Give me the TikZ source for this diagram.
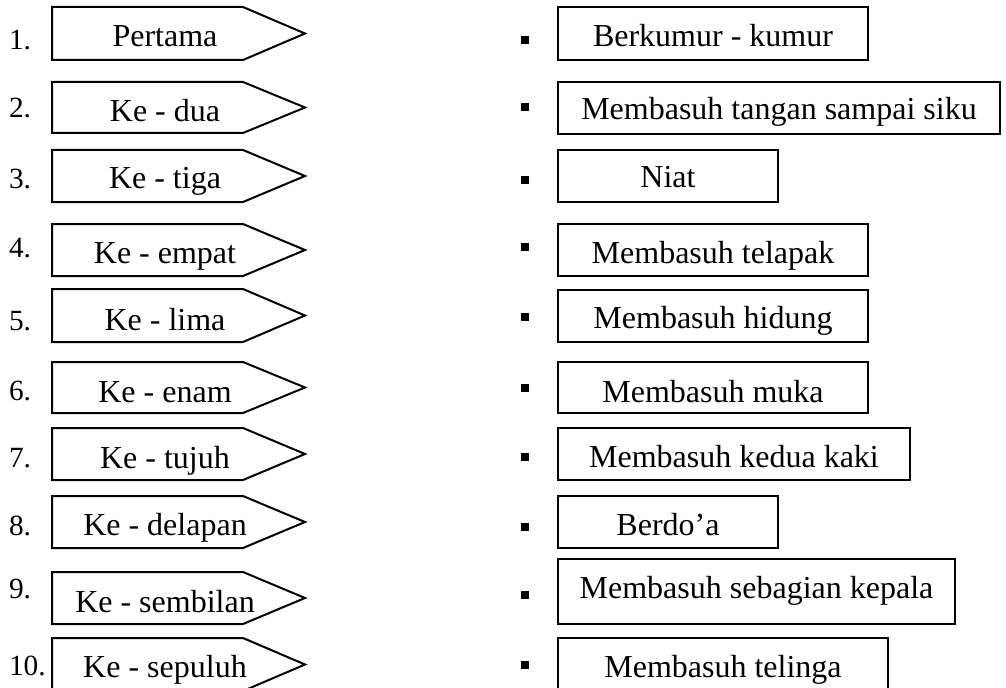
\documentclass[tikz,border=0pt]{standalone}
\usepackage{fontspec}
\setmainfont{Liberation Serif}

\tikzset{
  order/.style={anchor=base, inner sep=0pt, font=\fontsize{24}{28}\selectfont},
  num/.style={anchor=base west, inner sep=0pt, font=\fontsize{22}{26}\selectfont},
  act/.style={anchor=base, inner sep=0pt, font=\fontsize{24}{28}\selectfont},
  dot/.style={fill=black, inner sep=0pt, minimum size=6pt},
}

\begin{document}
\begin{tikzpicture}[x=0.75pt, y=-0.75pt, line width=1.5pt, line join=miter]
\useasboundingbox (0,0) rectangle (1006,688);

% left column: numbers and arrow boxes
\node[num] (n1) at (8,50) {1.};
\node[num] (n2) at (8,118) {2.};
\node[num] (n3) at (8,189) {3.};
\node[num] (n4) at (8,257) {4.};
\node[num] (n5) at (8,330) {5.};
\node[num] (n6) at (8,400) {6.};
\node[num] (n7) at (8,467) {7.};
\node[num] (n8) at (8,535) {8.};
\node[num] (n9) at (8,598) {9.};
\node[num] (n10) at (8,675) {10.};

\draw (52,7) -- (243,7) -- (305,33.5) -- (243,60) -- (52,60) -- cycle;
\draw (52,82) -- (243,82) -- (305,107.5) -- (243,133) -- (52,133) -- cycle;
\draw (52,150) -- (243,150) -- (305,176) -- (243,202) -- (52,202) -- cycle;
\draw (52,224) -- (243,224) -- (305,250) -- (243,276) -- (52,276) -- cycle;
\draw (52,289) -- (243,289) -- (305,315.5) -- (243,342) -- (52,342) -- cycle;
\draw (52,362) -- (243,362) -- (305,387.5) -- (243,413) -- (52,413) -- cycle;
\draw (52,428) -- (243,428) -- (305,454) -- (243,480) -- (52,480) -- cycle;
\draw (52,496) -- (243,496) -- (305,522) -- (243,548) -- (52,548) -- cycle;
\draw (52,572) -- (243,572) -- (305,598) -- (243,624) -- (52,624) -- cycle;
\draw (52,638) -- (243,638) -- (305,664.5) -- (243,691) -- (52,691) -- cycle;

\node[order] (o1) at (165,47) {Pertama};
\node[order] (o2) at (165,122) {Ke - dua};
\node[order] (o3) at (165,189) {Ke - tiga};
\node[order] (o4) at (165,263) {Ke - empat};
\node[order] (o5) at (165,330) {Ke - lima};
\node[order] (o6) at (165,402) {Ke - enam};
\node[order] (o7) at (165,468) {Ke - tujuh};
\node[order] (o8) at (165,535) {Ke - delapan};
\node[order] (o9) at (165,612) {Ke - sembilan};
\node[order] (o10) at (165,677) {Ke - sepuluh};

% right column: bullets and boxes
\node[dot] (d1) at (525,40) {};
\node[dot] (d2) at (525,107) {};
\node[dot] (d3) at (525,180) {};
\node[dot] (d4) at (525,247) {};
\node[dot] (d5) at (525,317) {};
\node[dot] (d6) at (525,388) {};
\node[dot] (d7) at (525,457) {};
\node[dot] (d8) at (525,527) {};
\node[dot] (d9) at (525,595) {};
\node[dot] (d10) at (525,665) {};

\draw (558,7) rectangle (868,60);
\draw (558,82) rectangle (1000,134);
\draw (558,150) rectangle (778,202);
\draw (558,224) rectangle (868,276);
\draw (558,290) rectangle (868,342);
\draw (558,362) rectangle (868,413);
\draw (558,428) rectangle (910,480);
\draw (558,496) rectangle (778,548);
\draw (558,559) rectangle (955,624);
\draw (558,638) rectangle (888,691);

\node[act] (a1) at (713,47) {Berkumur - kumur};
\node[act] (a2) at (779,120) {Membasuh tangan sampai siku};
\node[act] (a3) at (668,188) {Niat};
\node[act] (a4) at (713,263) {Membasuh telapak};
\node[act] (a5) at (713,328) {Membasuh hidung};
\node[act] (a6) at (713,402) {Membasuh muka};
\node[act] (a7) at (734,467) {Membasuh kedua kaki};
\node[act] (a8) at (668,535) {Berdo’a};
\node[act] (a9) at (756.5,598) {Membasuh sebagian kepala};
\node[act] (a10) at (723,677) {Membasuh telinga};

\end{tikzpicture}
\end{document}
